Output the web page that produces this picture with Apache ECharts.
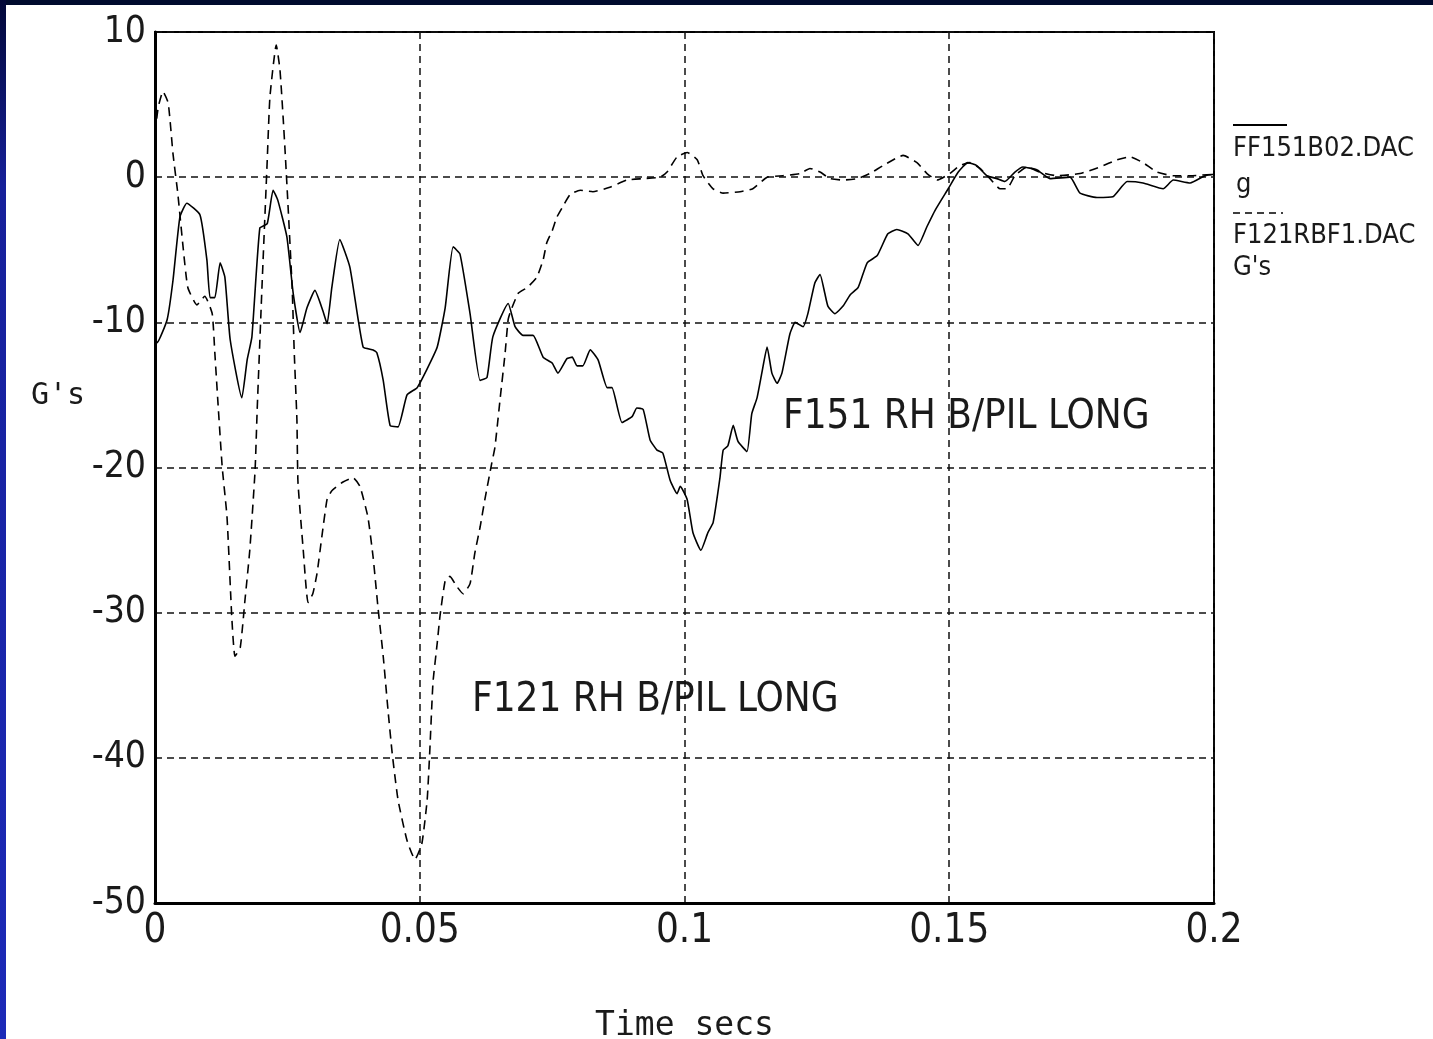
<!DOCTYPE html>
<html>
<head>
<meta charset="utf-8">
<script src="https://cdn.jsdelivr.net/npm/echarts@6/dist/echarts.min.js"></script>
<style>
  html, body { margin: 0; padding: 0; background: #fff; }
  #wrap { position: relative; width: 1433px; height: 1039px; overflow: hidden; }
  #chart { position: absolute; left: 0; top: 0; width: 1433px; height: 1039px; }
  #topband { position: absolute; left: 0; top: 0; width: 1433px; height: 5px; background: #000b2e; }
  #leftband { position: absolute; left: 0; top: 0; width: 6px; height: 1039px;
    background: linear-gradient(to bottom, #020838 0%, #16209a 18%, #1c2ab8 100%); }
</style>
</head>
<body>
<div id="wrap">
  <div id="chart"></div>
  <div id="topband"></div>
  <div id="leftband"></div>
</div>
<script>
// ---- Data ----
const xTicks = [0, 0.05, 0.1, 0.15, 0.2];
const yTicks = [10, 0, -10, -20, -30, -40, -50];

// FF151B02.DAC (solid)
const timeA = [0, 0.0004, 0.0023, 0.0034, 0.0047, 0.0060, 0.0085, 0.0098, 0.0104, 0.0113, 0.0123, 0.0132, 0.0142,
  0.0164, 0.0174, 0.0183, 0.0198, 0.0212, 0.0223, 0.0232, 0.0249, 0.0261, 0.0274, 0.0287, 0.0302, 0.0317, 0.0325,
  0.0334, 0.0349, 0.0368, 0.0393, 0.0412, 0.0419, 0.0431, 0.0444, 0.0459, 0.0476, 0.0495, 0.0514, 0.0533, 0.0548,
  0.0563, 0.0576, 0.0595, 0.0614, 0.0627, 0.0638, 0.0667, 0.0680, 0.0695, 0.0714, 0.0733, 0.0750, 0.0761, 0.0778,
  0.0788, 0.0797, 0.0808, 0.0822, 0.0837, 0.0854, 0.0863, 0.0882, 0.0901, 0.0910, 0.0922, 0.0935, 0.0948, 0.0959,
  0.0973, 0.0986, 0.0992, 0.1005, 0.1016, 0.1031, 0.1044, 0.1054, 0.1067, 0.1073, 0.1082, 0.1092, 0.1101, 0.1118,
  0.1127, 0.1137, 0.1146, 0.1156, 0.1165, 0.1175, 0.1184, 0.1199, 0.1209, 0.1224, 0.1233, 0.1246, 0.1256, 0.1265,
  0.1271, 0.1284, 0.1299, 0.1313, 0.1328, 0.1345, 0.1364, 0.1384, 0.1401, 0.1422, 0.1441, 0.1458, 0.1473, 0.1498,
  0.1517, 0.1535, 0.1552, 0.1571, 0.1590, 0.1605, 0.1624, 0.1639, 0.1666, 0.1690, 0.1728, 0.1747, 0.1779, 0.1809,
  0.1836, 0.1866, 0.1904, 0.1923, 0.1955, 0.1983, 0.2];
const gA = [-11.0, -11.4, -9.8, -7.1, -2.75, -1.8, -2.6, -5.7, -8.3, -8.3, -5.9, -6.9, -11.2,
  -15.2, -12.6, -11.0, -3.5, -3.2, -0.9, -1.6, -4.1, -8.0, -10.7, -9.0, -7.8, -9.2, -10.1,
  -7.6, -4.3, -6.2, -11.7, -11.9, -12.1, -14.0, -17.1, -17.2, -15.0, -14.5, -13.2, -11.7, -9.0,
  -4.8, -5.3, -9.4, -14.0, -13.8, -11.0, -8.7, -10.3, -10.9, -10.9, -12.4, -12.8, -13.5, -12.5,
  -12.4, -13.0, -13.0, -11.9, -12.6, -14.5, -14.5, -16.9, -16.5, -15.9, -16.0, -18.1, -18.8, -19.0,
  -20.9, -21.8, -21.3, -22.2, -24.5, -25.7, -24.5, -23.8, -20.7, -18.8, -18.5, -17.1, -18.2, -18.9,
  -16.3, -15.2, -13.5, -11.7, -13.5, -14.2, -13.5, -10.8, -10.0, -10.3, -9.4, -7.3, -6.7, -8.0,
  -8.9, -9.4, -8.9, -8.1, -7.6, -5.9, -5.4, -3.9, -3.6, -3.9, -4.7, -3.4, -2.3, -0.8,
  0.35, 1.0, 0.8, 0.1, -0.1, -0.3, 0.35, 0.7, 0.5, -0.1, 0.0, -1.1, -1.4, -1.35,
  -0.3, -0.4, -0.8, -0.2, -0.4, 0.1, 0.2];

// F121RBF1.DAC (dashed)
const timeB = [0, 0.0006, 0.0015, 0.0025, 0.0034, 0.0043, 0.0053, 0.0062, 0.0079, 0.0094, 0.0108, 0.0113, 0.0119,
  0.0127, 0.0136, 0.0145, 0.0151, 0.0161, 0.0170, 0.0179, 0.0189, 0.0193, 0.0202, 0.0212, 0.0217, 0.0229, 0.0236,
  0.0242, 0.0246, 0.0251, 0.0259, 0.0263, 0.0268, 0.0270, 0.0280, 0.0289, 0.0298, 0.0306, 0.0315, 0.0325, 0.0334,
  0.0355, 0.0374, 0.0387, 0.0402, 0.0412, 0.0421, 0.0431, 0.0440, 0.0448, 0.0459, 0.0476, 0.0491, 0.0504, 0.0514,
  0.0519, 0.0525, 0.0533, 0.0538, 0.0548, 0.0557, 0.0570, 0.0582, 0.0595, 0.0604, 0.0614, 0.0623, 0.0636, 0.0642,
  0.0652, 0.0661, 0.0667, 0.0672, 0.0686, 0.0703, 0.0721, 0.0733, 0.0740, 0.0750, 0.0759, 0.0769, 0.0784, 0.0803,
  0.0827, 0.0859, 0.0891, 0.0922, 0.0954, 0.0967, 0.0986, 0.1005, 0.1024, 0.1035, 0.1054, 0.1073, 0.1105, 0.1129,
  0.1156, 0.1186, 0.1218, 0.1237, 0.1256, 0.1275, 0.1299, 0.1326, 0.1350, 0.1375, 0.1413, 0.1439, 0.1458, 0.1477,
  0.1501, 0.1520, 0.1539, 0.1558, 0.1577, 0.1596, 0.1609, 0.1624, 0.1647, 0.1671, 0.1703, 0.1747, 0.1785, 0.1817,
  0.1841, 0.1866, 0.1892, 0.1923, 0.1955, 0.2];
const gB = [3.0, 4.8, 5.9, 5.1, 1.6, -1.1, -4.8, -7.6, -8.8, -8.2, -9.4, -12.1, -15.6,
  -20.0, -23.4, -30.3, -33.0, -32.4, -29.1, -25.7, -20.2, -16.0, -7.6, 1.2, 5.5, 9.1, 7.4,
  4.1, 1.6, -1.8, -7.6, -12.1, -16.7, -21.0, -25.7, -29.3, -28.7, -27.3, -24.8, -22.2, -21.6,
  -21.0, -20.7, -21.3, -23.4, -26.2, -29.6, -33.0, -36.7, -39.7, -42.9, -45.7, -47.0, -45.9, -42.9,
  -39.5, -34.8, -32.1, -30.3, -27.8, -27.5, -28.2, -28.7, -28.0, -25.9, -24.1, -22.2, -19.7, -18.6,
  -15.2, -12.2, -9.8, -9.2, -8.0, -7.6, -6.9, -5.7, -4.5, -3.7, -2.75, -2.1, -1.2, -0.9,
  -1.0, -0.7, -0.2, -0.1, 0.0, 0.35, 1.4, 1.7, 1.2, 0.1, -0.8, -1.1, -1.0, -0.8,
  0.0, 0.1, 0.25, 0.6, 0.35, -0.1, -0.2, -0.1, 0.25, 0.8, 1.5, 1.0, 0.25, -0.2,
  0.25, 0.8, 1.0, 0.6, -0.1, -0.8, -0.8, 0.1, 0.7, 0.35, 0.1, 0.25, 0.7, 1.2,
  1.4, 1.0, 0.35, 0.1, 0.1, 0.2];

const nameA = 'FF151B02.DAC';
const unitA = 'g';
const nameB = 'F121RBF1.DAC';
const unitB = "G's";
const noteA = 'F151 RH B/PIL LONG';
const noteB = 'F121 RH B/PIL LONG';
const yName = "G's";
const xName = 'Time secs';

// ---- Chart ----
const NARROW = "'Liberation Sans Narrow', 'DejaVu Sans Condensed', 'Liberation Sans', sans-serif";
const MONO = "'DejaVu Sans Mono', 'Liberation Mono', monospace";
const INK = '#1a1a1a';

const chart = echarts.init(document.getElementById('chart'), null, { renderer: 'canvas' });
const gridLine = { show: true, lineStyle: { color: '#111', width: 1.5, type: [7, 5] } };

chart.setOption({
  animation: false,
  backgroundColor: '#fff',
  grid: { left: 155, right: 219, top: 32, bottom: 136, outerBoundsMode: 'none', containLabel: false,
    show: true, borderColor: '#000', borderWidth: 2, backgroundColor: 'transparent' },
  xAxis: {
    type: 'value', min: xTicks[0], max: xTicks[xTicks.length - 1], interval: 0.05,
    name: xName, nameLocation: 'middle', nameGap: 107,
    nameTextStyle: { fontFamily: MONO, fontSize: 33, color: INK },
    axisLine: { show: true, onZero: false, lineStyle: { color: '#000', width: 3 } },
    axisTick: { show: false },
    axisLabel: { margin: 9, fontFamily: NARROW, fontSize: 40, color: INK,
      formatter: v => String(parseFloat(v.toFixed(2))) },
    splitLine: gridLine
  },
  yAxis: {
    type: 'value', min: yTicks[yTicks.length - 1], max: yTicks[0], interval: 10,
    axisLine: { show: true, onZero: false, lineStyle: { color: '#000', width: 3 } },
    axisTick: { show: false },
    axisLabel: { margin: 9, fontFamily: NARROW, fontSize: 37, color: INK },
    splitLine: gridLine
  },
  series: [
    {
      name: nameA, type: 'line', showSymbol: false, symbol: 'none', smooth: 0.15,
      data: timeA.map((t, i) => [t, gA[i]]),
      lineStyle: { color: '#000', width: 1.6, type: 'solid' }, z: 3
    },
    {
      name: nameB, type: 'line', showSymbol: false, symbol: 'none', smooth: 0.15,
      data: timeB.map((t, i) => [t, gB[i]]),
      lineStyle: { color: '#000', width: 1.6, type: [9, 6] }, z: 3
    }
  ],
  graphic: [
    { type: 'text', left: 31, top: 381, style: { text: yName, font: "30px " + MONO, fill: INK } },
    { type: 'text', left: 783, top: 398, style: { text: noteA, font: "40px " + NARROW, fill: INK } },
    { type: 'text', left: 472, top: 681, style: { text: noteB, font: "40px " + NARROW, fill: INK } },
    { type: 'line', shape: { x1: 1233, y1: 125, x2: 1287, y2: 125 }, style: { stroke: '#000', lineWidth: 2 } },
    { type: 'text', left: 1233, top: 135, style: { text: nameA, font: "27px " + NARROW, fill: INK } },
    { type: 'text', left: 1236, top: 171, style: { text: unitA, font: "27px " + NARROW, fill: INK } },
    { type: 'line', shape: { x1: 1233, y1: 213, x2: 1283, y2: 213 }, style: { stroke: '#000', lineWidth: 1.5, lineDash: [7, 5] } },
    { type: 'text', left: 1233, top: 222, style: { text: nameB, font: "27px " + NARROW, fill: INK } },
    { type: 'text', left: 1233, top: 254, style: { text: unitB, font: "27px " + NARROW, fill: INK } }
  ]
});
</script>
</body>
</html>
